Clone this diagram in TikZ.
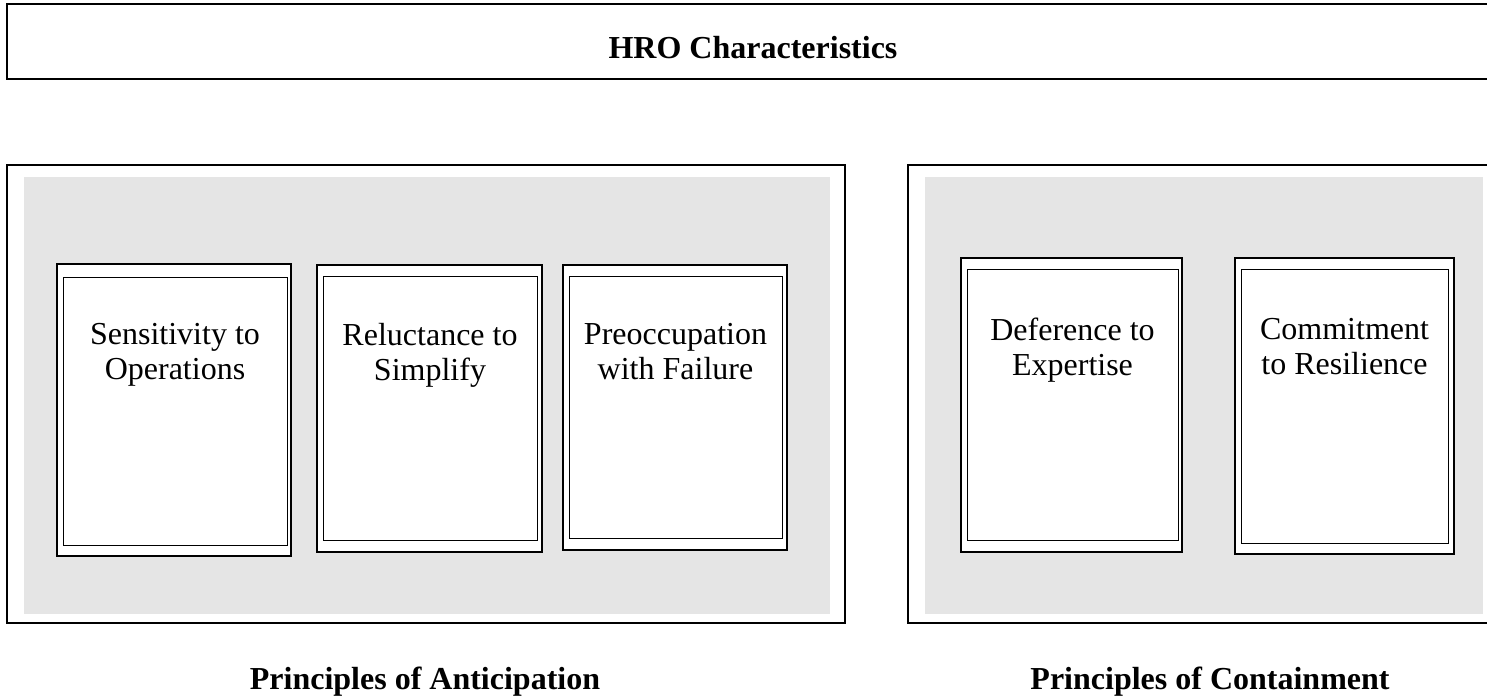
\documentclass[tikz,border=0pt]{standalone}
\usepackage{fontspec}
\setmainfont{Liberation Serif}
\usetikzlibrary{fit}
\definecolor{panelgray}{RGB}{229,229,229}
\begin{document}
\begin{tikzpicture}[x=0.5pt,y=-0.5pt,
  frame/.style={draw=black,line width=0.9pt,inner sep=0pt},
  panel/.style={fill=panelgray,draw=none,inner sep=0pt},
  cardout/.style={draw=black,fill=white,line width=0.9pt,inner sep=0pt},
  cardin/.style={draw=black,line width=0.5pt,inner sep=0pt},
  cardtext/.style={font=\fontsize{16}{17.5}\selectfont,align=center,inner sep=0pt,anchor=north},
  headtext/.style={font=\bfseries\fontsize{16}{18}\selectfont,inner sep=0pt,anchor=base}]
\useasboundingbox (0,0) rectangle (1487,697);
\clip (0,0) rectangle (1487,697);
\fill[white] (0,0) rectangle (1487,697);
% top banner
\node[frame,fit={(7,4) (1500,79)}] (top) {};
\node[headtext] (title) at (753,58) {HRO Characteristics};
% containers
\node[frame,fit={(7,165) (845,623)}] (antic) {};
\node[panel,fit={(24,177) (830,614)}] (anticbg) {};
\node[frame,fit={(908,165) (1500,623)}] (contain) {};
\node[panel,fit={(925,177) (1483,614)}] (containbg) {};
% cards left
\node[cardout,fit={(57,264) (291,556)}] (c1o) {};
\node[cardin,fit={(63,277) (287,545)}] (c1i) {};
\node[cardout,fit={(317,265) (542,552)}] (c2o) {};
\node[cardin,fit={(323,276) (537,540)}] (c2i) {};
\node[cardout,fit={(563,265) (787,550)}] (c3o) {};
\node[cardin,fit={(569,276) (782,538)}] (c3i) {};
% cards right
\node[cardout,fit={(961,258) (1182,552)}] (c4o) {};
\node[cardin,fit={(967,269) (1178,540)}] (c4i) {};
\node[cardout,fit={(1235,258) (1454,554)}] (c5o) {};
\node[cardin,fit={(1241,269) (1448,543)}] (c5i) {};
% card texts
\node[cardtext] (t1) at (c1i.center |- 0,323) {Sensitivity to\\Operations};
\node[cardtext] (t2) at (c2i.center |- 0,323) {Reluctance to\\Simplify};
\node[cardtext] (t3) at (c3i.center |- 0,323) {Preoccupation\\with Failure};
\node[cardtext] (t4) at (c4i.center |- 0,318) {Deference to\\Expertise};
\node[cardtext] (t5) at (c5i.center |- 0,318) {Commitment\\to Resilience};
% labels
\node[headtext] (la) at (425,689) {Principles of Anticipation};
\node[headtext] (lc) at (1210,689) {Principles of Containment};
\end{tikzpicture}
\end{document}
